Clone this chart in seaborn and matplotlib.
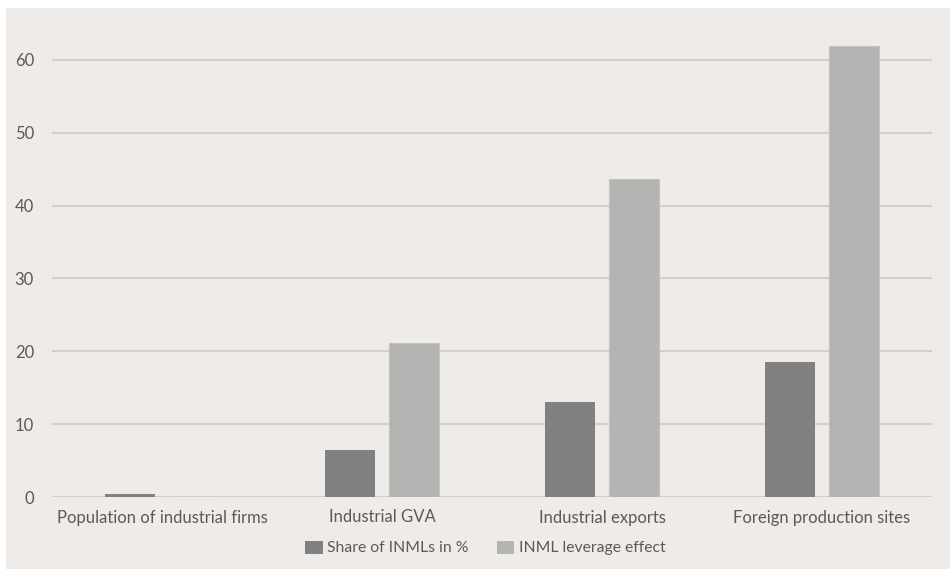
import numpy as np
import pandas as pd
import matplotlib.pyplot as plt
import seaborn as sns
from matplotlib.patches import Rectangle

categories = ['Population of industrial firms', 'Industrial GVA',
              'Industrial exports', 'Foreign production sites']
share_inml = [0.4, 6.45, 13.05, 18.55]
leverage = [0.0, 21.1, 43.7, 61.9]
series = ['Share of INMLs in %', 'INML leverage effect']
yticks = [0, 10, 20, 30, 40, 50, 60]

df = pd.DataFrame({
    'category': categories * 2,
    'value': share_inml + leverage,
    'series': [series[0]] * 4 + [series[1]] * 4,
})

sns.set_style('white')
plt.rcParams['font.family'] = ['Lato', 'DejaVu Sans']

bg = '#efebe8'
fig = plt.figure(figsize=(9.5, 5.72), dpi=100, facecolor='white')
fig.patches.append(Rectangle((6 / 950, 3 / 572), 944 / 950, 561 / 572,
                             transform=fig.transFigure, facecolor=bg,
                             edgecolor='none', zorder=-10))
ax = fig.add_axes([52 / 950, 75 / 572, 880 / 950, 488 / 572])
ax.set_facecolor('none')

sns.barplot(data=df, x='category', y='value', hue='series', order=categories,
            hue_order=series, palette=['#818181', '#b4b4b2'],
            width=0.58, gap=0.22, ax=ax, legend=True)
for p in ax.patches:
    p.set_edgecolor('none')
for p in ax.containers[1]:
    p.set_edgecolor('#c2c2c0')
    p.set_linewidth(0.8)

ax.set_xlim(-0.5, 3.5)
ax.set_ylim(0, 67)
ax.set_yticks(yticks)
ax.yaxis.grid(True, color='#d2cecb', linewidth=1.5)
ax.set_axisbelow(True)
for s in ax.spines.values():
    s.set_visible(False)
ax.tick_params(axis='both', length=0, colors='#5a5a5a', labelsize=12)
ax.tick_params(axis='y', pad=13)
ax.tick_params(axis='x', pad=9)
ax.set_xlabel('')
ax.set_ylabel('')

handles, labels = ax.get_legend_handles_labels()
ax.get_legend().remove()
fig.legend(handles, labels, loc='center', bbox_to_anchor=(0.511, 0.042),
           ncol=2, frameon=False, fontsize=11.3, handlelength=1.1,
           handleheight=0.9, handletextpad=0.3, columnspacing=1.8,
           labelcolor='#5a5a5a')

fig.savefig('out.png', dpi=100, facecolor='white')
